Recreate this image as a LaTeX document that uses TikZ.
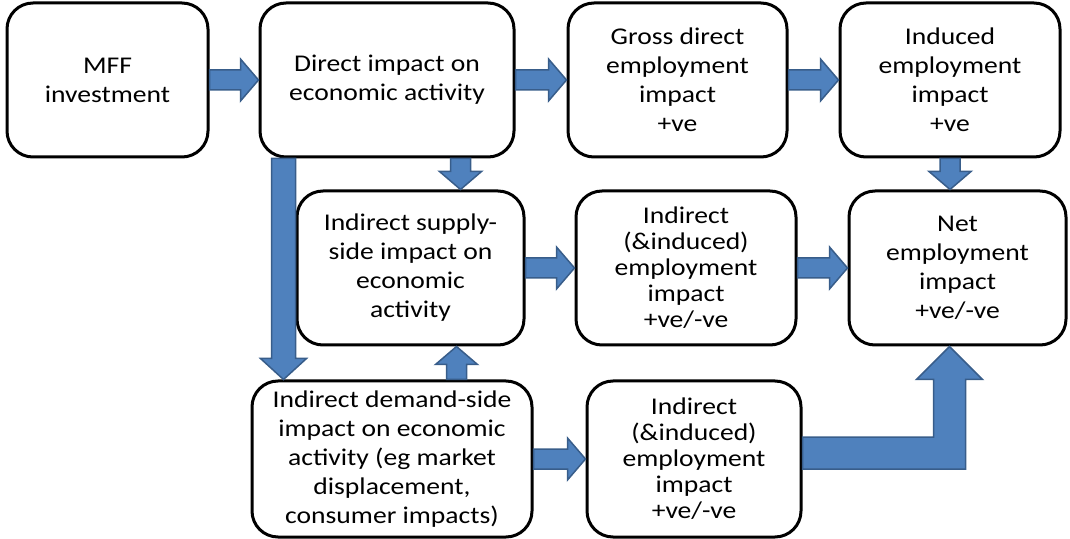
\documentclass[tikz,border=0pt]{standalone}
\usepackage{fontspec}
\setmainfont{Carlito}[FakeStretch=1.15]
\usetikzlibrary{calc}

\definecolor{arrowblue}{RGB}{79,129,189}
\definecolor{arrowedge}{RGB}{56,93,138}

\tikzset{
  box/.style={draw, line width=1.5pt, rounded corners=13pt, minimum height=77pt,
    align=center, inner sep=2pt, font=\fontsize{12}{14.5}\selectfont},
  tightbox/.style={box, font=\fontsize{12}{13}\selectfont},
  blockarrow/.style={fill=arrowblue, draw=arrowedge, line width=0.75pt, line join=miter},
}

% right pointing block arrow, tail #1, tip #2
\newcommand{\harrow}[2]{%
  \path[blockarrow] let \p1=(#1), \p2=(#2), \p3=($(#2)!9pt!(#1)$) in
    (\x1,\y2+5pt) -- (\x3,\y2+5pt) -- (\x3,\y2+10.5pt) -- (\x2,\y2)
    -- (\x3,\y2-10.5pt) -- (\x3,\y2-5pt) -- (\x1,\y2-5pt) -- cycle;}
% up or down block arrow, tail #1, tip #2
\newcommand{\varrow}[2]{%
  \path[blockarrow] let \p1=(#1), \p2=(#2), \p3=($(#2)!9pt!(#1)$) in
    (\x2-5pt,\y1) -- (\x2-5pt,\y3) -- (\x2-10.5pt,\y3) -- (\x2,\y2)
    -- (\x2+10.5pt,\y3) -- (\x2+5pt,\y3) -- (\x2+5pt,\y1) -- cycle;}

\begin{document}
\begin{tikzpicture}[x=0.5pt, y=-0.5pt]
\useasboundingbox (0,0) rectangle (1070,539);

% top row
\node[box, minimum width=100.5pt] (mff) at (107.5,80) {MFF\\investment};
\node[box, minimum width=127pt] (direct) at (387,80) {Direct impact on\\economic activity};
\node[box, minimum width=109.5pt] (gross) at (677.5,80) {Gross direct\\employment\\impact\\+ve};
\node[box, minimum width=110pt] (induced) at (950,80) {Induced\\employment\\impact\\+ve};

% middle row
\node[box, minimum width=113.5pt] (supply) at (410.5,268) {Indirect supply-\\side impact on\\economic\\activity};
\node[tightbox, minimum width=110pt] (mid) at (686,268) {Indirect\\(\&induced)\\employment\\impact\\+ve/-ve};
\node[box, minimum width=108.5pt] (net) at (957.5,268) {Net\\employment\\impact\\+ve/-ve};

% bottom row
\node[box, minimum width=140pt, minimum height=78pt] (demand) at (392,459) {Indirect demand-side\\impact on economic\\activity (eg market\\displacement,\\consumer impacts)};
\node[tightbox, minimum width=107pt, minimum height=78pt] (bottom) at (694,459) {Indirect\\(\&induced)\\employment\\impact\\+ve/-ve};

% arrows
\harrow{mff.east}{direct.west}
\harrow{direct.east}{gross.west}
\harrow{gross.east}{induced.west}
\harrow{supply.east}{mid.west}
\harrow{mid.east}{net.west}
\harrow{demand.east}{bottom.west}

\coordinate (a1) at ([xshift=25pt]supply.north);
\coordinate (a0) at (direct.south -| a1);
\varrow{a0}{a1}

\coordinate (b1) at (net.north -| induced.south);
\varrow{induced.south}{b1}

\coordinate (c1) at ([xshift=23pt]supply.south);
\coordinate (c0) at (demand.north -| c1);
\varrow{c0}{c1}

% long arrow down the left
\coordinate (d0) at ([xshift=12.5pt]direct.south west);
\coordinate (d1) at (demand.north -| d0);
\path[blockarrow] let \p1=(d0), \p2=(d1) in
  (\x1-6pt,\y1) -- (\x1-6pt,\y2+10.5pt) -- (\x1-11.5pt,\y2+10.5pt) -- (\x2,\y2)
  -- (\x1+11.5pt,\y2+10.5pt) -- (\x1+6pt,\y2+10.5pt) -- (\x1+6pt,\y1) -- cycle;

% bent arrow up to net
\coordinate (e1) at ([xshift=-4pt]net.south);
\path[blockarrow] let \p1=(bottom.east), \p2=(e1) in
  (\x1,\y1-5pt) -- (\x2+8pt,\y1-5pt) -- (\x2+8pt,\y2-16.5pt) -- (\x2+16.5pt,\y2-16.5pt)
  -- (\x2,\y2) -- (\x2-16.5pt,\y2-16.5pt) -- (\x2-8pt,\y2-16.5pt) -- (\x2-8pt,\y1+11pt)
  -- (\x1,\y1+11pt) -- cycle;
\end{tikzpicture}
\end{document}
